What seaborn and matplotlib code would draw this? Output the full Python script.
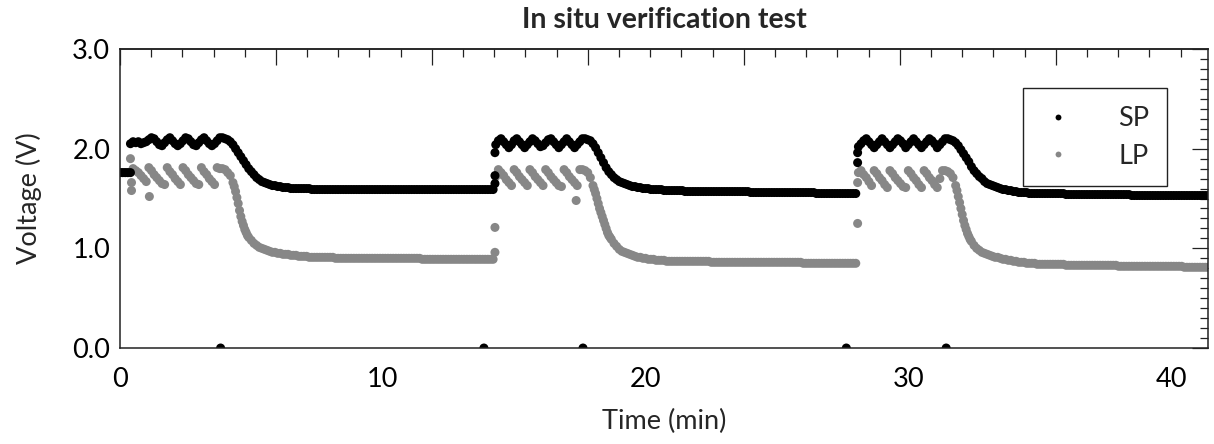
import numpy as np
import pandas as pd
import seaborn as sns
import matplotlib.pyplot as plt
from matplotlib.ticker import MultipleLocator, FormatStrFormatter, NullFormatter

# logger sample clock: one reading every 0.1 min, 0.0 .. 41.4 min
t_start = 0.0
t_step = 0.1
n_samples = 415

# SP voltage (V), one value per sample
sp_volt = [
    # cycle 1 (0.0 - 14.2 min)
    1.76, 1.76, 1.76, 1.76, 2.05, 2.07, 2.06, 2.07, 2.05, 2.06,
    2.07, 2.09, 2.11, 2.10, 2.07, 2.04, 2.03, 2.06, 2.09, 2.11,
    2.08, 2.05, 2.03, 2.05, 2.08, 2.11, 2.10, 2.07, 2.04, 2.03,
    2.06, 2.09, 2.11, 2.08, 2.05, 2.03, 2.05, 2.08, 2.11, 2.11,
    2.10, 2.09, 2.07, 2.04, 2.00, 1.96, 1.92, 1.88, 1.84, 1.80,
    1.77, 1.74, 1.71, 1.69, 1.67, 1.66, 1.65, 1.64, 1.63, 1.63,
    1.62, 1.62, 1.61, 1.61, 1.61, 1.60, 1.60, 1.60, 1.60, 1.60,
    1.60, 1.60, 1.60, 1.59, 1.59, 1.59, 1.59, 1.59, 1.59, 1.59,
    1.59, 1.59, 1.59, 1.59, 1.59, 1.59, 1.59, 1.59, 1.59, 1.59,
    1.59, 1.59, 1.59, 1.59, 1.59, 1.59, 1.59, 1.59, 1.59, 1.59,
    1.59, 1.59, 1.59, 1.59, 1.59, 1.59, 1.59, 1.59, 1.59, 1.59,
    1.59, 1.59, 1.59, 1.59, 1.59, 1.59, 1.59, 1.59, 1.59, 1.59,
    1.59, 1.59, 1.59, 1.59, 1.59, 1.59, 1.59, 1.59, 1.59, 1.59,
    1.59, 1.59, 1.59, 1.59, 1.59, 1.59, 1.59, 1.59, 1.59, 1.59,
    1.59, 1.59, 1.59,
    # cycle 2 (14.3 - 28.0 min)
    2.04, 2.08, 2.10, 2.07, 2.04, 2.01, 2.04,
    2.08, 2.10, 2.07, 2.04, 2.01, 2.04, 2.07, 2.10, 2.08, 2.05,
    2.02, 2.03, 2.06, 2.09, 2.10, 2.07, 2.04, 2.01, 2.04, 2.07,
    2.10, 2.07, 2.04, 2.01, 2.04, 2.07, 2.10, 2.10, 2.09, 2.08,
    2.05, 2.01, 1.96, 1.91, 1.86, 1.81, 1.77, 1.74, 1.71, 1.69,
    1.67, 1.66, 1.65, 1.64, 1.63, 1.62, 1.62, 1.61, 1.61, 1.60,
    1.60, 1.60, 1.59, 1.59, 1.59, 1.59, 1.59, 1.58, 1.58, 1.58,
    1.58, 1.58, 1.58, 1.58, 1.58, 1.57, 1.57, 1.57, 1.57, 1.57,
    1.57, 1.57, 1.57, 1.57, 1.57, 1.57, 1.57, 1.57, 1.57, 1.57,
    1.57, 1.57, 1.57, 1.57, 1.57, 1.57, 1.57, 1.57, 1.57, 1.57,
    1.56, 1.56, 1.56, 1.56, 1.56, 1.56, 1.56, 1.56, 1.56, 1.56,
    1.56, 1.56, 1.56, 1.56, 1.56, 1.56, 1.56, 1.56, 1.56, 1.56,
    1.56, 1.56, 1.56, 1.56, 1.56, 1.55, 1.55, 1.55, 1.55, 1.55,
    1.55, 1.55, 1.55, 1.55, 1.55, 1.55, 1.55, 1.55, 1.55, 1.55,
    1.55,
    # cycle 3 (28.1 - 41.4 min)
    2.02, 2.05, 2.08, 2.10, 2.07, 2.04, 2.01, 2.04, 2.07,
    2.10, 2.07, 2.04, 2.01, 2.04, 2.07, 2.10, 2.08, 2.05, 2.01,
    2.04, 2.07, 2.10, 2.07, 2.04, 2.01, 2.04, 2.07, 2.10, 2.08,
    2.05, 2.01, 2.04, 2.07, 2.10, 2.10, 2.09, 2.08, 2.06, 2.03,
    1.99, 1.95, 1.91, 1.87, 1.82, 1.78, 1.75, 1.72, 1.70, 1.67,
    1.65, 1.64, 1.63, 1.62, 1.61, 1.60, 1.59, 1.59, 1.58, 1.58,
    1.57, 1.57, 1.56, 1.56, 1.56, 1.56, 1.55, 1.55, 1.55, 1.55,
    1.55, 1.55, 1.55, 1.55, 1.55, 1.55, 1.55, 1.55, 1.55, 1.55,
    1.54, 1.54, 1.54, 1.54, 1.54, 1.54, 1.54, 1.54, 1.54, 1.54,
    1.54, 1.54, 1.54, 1.54, 1.54, 1.54, 1.54, 1.54, 1.54, 1.54,
    1.54, 1.54, 1.54, 1.54, 1.54, 1.53, 1.53, 1.53, 1.53, 1.53,
    1.53, 1.53, 1.53, 1.53, 1.53, 1.53, 1.53, 1.53, 1.53, 1.53,
    1.53, 1.53, 1.53, 1.53, 1.53, 1.53, 1.53, 1.53, 1.53, 1.53,
    1.53, 1.53, 1.53, 1.53, 1.53,
]

# LP voltage (V), same sample clock
lp_volt = [
    # cycle 1
    1.76, 1.76, 1.76, 1.76, 1.90, 1.80, 1.78, 1.76, 1.73, 1.70,
    1.67, 1.81, 1.78, 1.74, 1.71, 1.68, 1.65, 1.64, 1.81, 1.77,
    1.74, 1.70, 1.67, 1.64, 1.81, 1.78, 1.74, 1.71, 1.68, 1.65,
    1.64, 1.81, 1.77, 1.74, 1.70, 1.67, 1.64, 1.81, 1.80, 1.80,
    1.79, 1.76, 1.73, 1.66, 1.57, 1.45, 1.32, 1.23, 1.16, 1.11,
    1.08, 1.05, 1.03, 1.01, 1.00, 0.99, 0.98, 0.97, 0.96, 0.96,
    0.95, 0.95, 0.94, 0.94, 0.94, 0.93, 0.93, 0.93, 0.92, 0.92,
    0.92, 0.92, 0.91, 0.91, 0.91, 0.91, 0.91, 0.91, 0.91, 0.91,
    0.91, 0.91, 0.90, 0.90, 0.90, 0.90, 0.90, 0.90, 0.90, 0.90,
    0.90, 0.90, 0.90, 0.90, 0.90, 0.90, 0.90, 0.90, 0.90, 0.90,
    0.90, 0.90, 0.90, 0.90, 0.90, 0.90, 0.90, 0.90, 0.90, 0.90,
    0.90, 0.90, 0.90, 0.90, 0.90, 0.89, 0.89, 0.89, 0.89, 0.89,
    0.89, 0.89, 0.89, 0.89, 0.89, 0.89, 0.89, 0.89, 0.89, 0.89,
    0.89, 0.89, 0.89, 0.89, 0.89, 0.89, 0.89, 0.89, 0.89, 0.89,
    0.89, 0.89, 0.89,
    # cycle 2
    1.72, 1.79, 1.76, 1.73, 1.69, 1.66, 1.63,
    1.79, 1.76, 1.72, 1.69, 1.66, 1.63, 1.79, 1.76, 1.72, 1.69,
    1.66, 1.63, 1.79, 1.76, 1.72, 1.69, 1.66, 1.63, 1.62, 1.79,
    1.76, 1.72, 1.69, 1.66, 1.63, 1.79, 1.79, 1.78, 1.76, 1.71,
    1.63, 1.55, 1.45, 1.36, 1.28, 1.20, 1.13, 1.09, 1.05, 1.02,
    0.99, 0.97, 0.96, 0.95, 0.94, 0.93, 0.92, 0.91, 0.91, 0.90,
    0.90, 0.89, 0.89, 0.89, 0.88, 0.88, 0.88, 0.88, 0.87, 0.87,
    0.87, 0.87, 0.87, 0.87, 0.87, 0.87, 0.87, 0.87, 0.87, 0.87,
    0.87, 0.87, 0.87, 0.87, 0.87, 0.86, 0.86, 0.86, 0.86, 0.86,
    0.86, 0.86, 0.86, 0.86, 0.86, 0.86, 0.86, 0.86, 0.86, 0.86,
    0.86, 0.86, 0.86, 0.86, 0.86, 0.86, 0.86, 0.86, 0.86, 0.86,
    0.86, 0.86, 0.86, 0.86, 0.86, 0.86, 0.86, 0.86, 0.86, 0.86,
    0.85, 0.85, 0.85, 0.85, 0.85, 0.85, 0.85, 0.85, 0.85, 0.85,
    0.85, 0.85, 0.85, 0.85, 0.85, 0.85, 0.85, 0.85, 0.85, 0.85,
    0.85,
    # cycle 3
    1.76, 1.78, 1.74, 1.71, 1.67, 1.63, 1.78, 1.75, 1.71,
    1.68, 1.64, 1.61, 1.78, 1.75, 1.71, 1.68, 1.65, 1.62, 1.61,
    1.78, 1.75, 1.71, 1.68, 1.64, 1.61, 1.78, 1.75, 1.71, 1.68,
    1.64, 1.61, 1.70, 1.78, 1.78, 1.77, 1.75, 1.71, 1.63, 1.52,
    1.40, 1.28, 1.19, 1.12, 1.07, 1.03, 1.00, 0.98, 0.96, 0.95,
    0.94, 0.93, 0.92, 0.91, 0.91, 0.90, 0.89, 0.89, 0.88, 0.88,
    0.87, 0.87, 0.86, 0.86, 0.86, 0.85, 0.85, 0.85, 0.85, 0.84,
    0.84, 0.84, 0.84, 0.84, 0.84, 0.84, 0.84, 0.84, 0.84, 0.84,
    0.83, 0.83, 0.83, 0.83, 0.83, 0.83, 0.83, 0.83, 0.83, 0.83,
    0.83, 0.83, 0.83, 0.83, 0.83, 0.83, 0.83, 0.83, 0.83, 0.83,
    0.82, 0.82, 0.82, 0.82, 0.82, 0.82, 0.82, 0.82, 0.82, 0.82,
    0.82, 0.82, 0.82, 0.82, 0.82, 0.82, 0.82, 0.82, 0.82, 0.82,
    0.82, 0.82, 0.82, 0.82, 0.82, 0.81, 0.81, 0.81, 0.81, 0.81,
    0.81, 0.81, 0.81, 0.81, 0.81,
]

# extra readings between the 0.1 min samples: switching transients,
# drop-outs to zero and the fast LP fall after each pulse train
sp_extra_time = [0.40, 3.83, 13.85, 14.27, 14.27, 14.27, 17.62, 27.64, 28.07, 28.07, 31.44]
sp_extra_volt = [1.76, 0.00, 0.00, 1.96, 1.73, 1.65, 0.00, 0.00, 1.96, 1.86, 0.00]
lp_extra_time = [0.44, 0.44, 1.12, 14.27, 14.27, 17.36, 28.07, 28.07,
                 4.35, 4.45, 4.55, 4.65, 4.75, 4.85,
                 18.05, 18.15, 18.25, 18.35, 18.45, 18.55, 18.65,
                 31.85, 31.95, 32.05, 32.15, 32.25, 32.35]
lp_extra_volt = [1.66, 1.58, 1.52, 1.21, 0.96, 1.48, 1.66, 1.25,
                 1.62, 1.51, 1.38, 1.27, 1.19, 1.13,
                 1.59, 1.50, 1.40, 1.32, 1.24, 1.16, 1.11,
                 1.58, 1.46, 1.34, 1.23, 1.15, 1.09]

series_names = ["SP", "LP"]
series_colors = {"SP": "black", "LP": "#878787"}

time = np.round(t_start + t_step * np.arange(n_samples), 1)

# LP rows first so the SP points end up drawn on top
lp = pd.DataFrame({"time": np.concatenate([time, lp_extra_time]),
                   "volt": lp_volt + lp_extra_volt, "series": "LP"})
sp = pd.DataFrame({"time": np.concatenate([time, sp_extra_time]),
                   "volt": sp_volt + sp_extra_volt, "series": "SP"})
df = pd.concat([lp, sp], ignore_index=True)

sns.set_style("white")
plt.rcParams["font.family"] = ["Lato", "DejaVu Sans"]

fig, ax = plt.subplots(figsize=(12.14, 4.44), dpi=100)
fig.subplots_adjust(left=0.0988, right=0.995, top=0.8896, bottom=0.2162)

sns.scatterplot(data=df, x="time", y="volt", hue="series", hue_order=series_names,
                palette=series_colors, s=42, linewidth=0, ax=ax)

ax.set_xlim(0, 41.4)
ax.set_ylim(0, 3.0)
ax.xaxis.set_major_locator(MultipleLocator(10))
ax.xaxis.set_minor_locator(MultipleLocator(2))
ax.yaxis.set_major_locator(MultipleLocator(1))
ax.yaxis.set_minor_locator(MultipleLocator(0.1))
ax.yaxis.set_major_formatter(FormatStrFormatter("%.1f"))

ax.tick_params(which="both", direction="in", top=False, right=True,
               colors="#222222", labelcolor="black", labelsize=19.5)
ax.tick_params(which="major", length=11.5, width=0.9)
ax.tick_params(which="minor", length=5.5, width=0.9)
ax.tick_params(axis="x", pad=14)
ax.tick_params(axis="y", pad=7)
for sp_ in ax.spines.values():
    sp_.set_linewidth(1.1)
    sp_.set_color("#222222")

# the top axis carries its own, unlabeled tick scale
top = ax.secondary_xaxis("top")
top.xaxis.set_major_locator(MultipleLocator(5.935))
top.xaxis.set_minor_locator(MultipleLocator(1.187))
top.xaxis.set_major_formatter(NullFormatter())
top.tick_params(which="both", direction="in", colors="#222222", width=0.9)
top.tick_params(which="major", length=11.5)
top.tick_params(which="minor", length=5.5)
top.spines["top"].set_linewidth(1.1)
top.spines["top"].set_color("#222222")

ax.set_xlabel("Time (min)", fontsize=19.5, labelpad=12)
ax.set_ylabel("Voltage (V)", fontsize=19.5, labelpad=22)
ax.set_title("In situ verification test", fontsize=20.5, fontweight="bold", pad=15)

handles, labels = ax.get_legend_handles_labels()
leg = ax.legend(handles, labels, loc="upper left", bbox_to_anchor=(0.83, 0.868),
                fontsize=19.5, markerscale=0.65, frameon=True, fancybox=False,
                edgecolor="#222222", handletextpad=1.55, borderpad=0.66,
                labelspacing=0.45, borderaxespad=0, handlelength=1.3)
leg.get_frame().set_linewidth(1.0)
leg.get_frame().set_alpha(1)

plt.savefig("out.png", dpi=100)
